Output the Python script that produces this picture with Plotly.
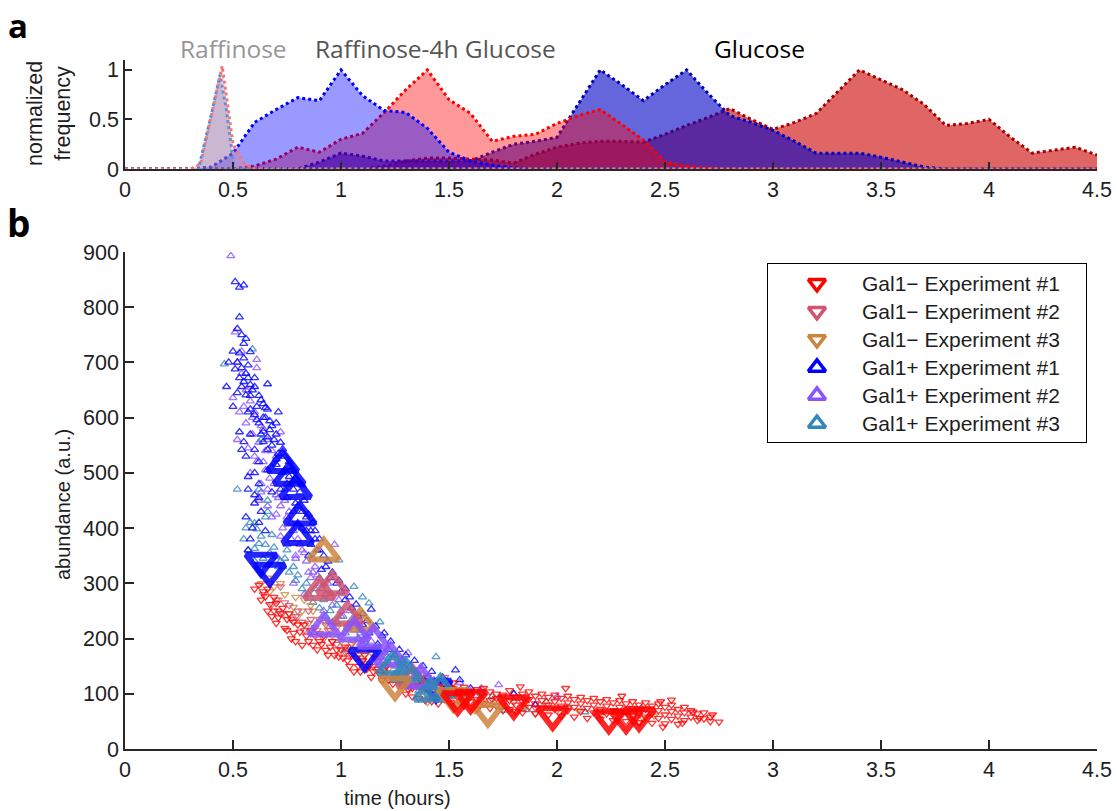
import plotly.graph_objects as go

# ---------------- panel a: histograms ----------------
hist_x = [0.0, 0.1, 0.2, 0.3, 0.4, 0.5, 0.6, 0.7, 0.8, 0.9,
          1.0, 1.1, 1.2, 1.3, 1.4, 1.5, 1.6, 1.7, 1.8, 1.9,
          2.0, 2.1, 2.2, 2.3, 2.4, 2.5, 2.6, 2.7, 2.8, 2.9,
          3.0, 3.1, 3.2, 3.3, 3.4, 3.5, 3.6, 3.7, 3.8, 3.9,
          4.0, 4.1, 4.2, 4.3, 4.4, 4.5]
r4h_minus = [0, 0, 0, 0, 0, 0, 0.03, 0.10, 0.22, 0.17,
             0.30, 0.36, 0.57, 0.80, 1.00, 0.70, 0.56, 0.28, 0.33, 0.35,
             0.46, 0.54, 0.60, 0.45, 0.29, 0.07, 0.03, 0.01, 0, 0,
             0, 0, 0, 0, 0, 0, 0, 0, 0, 0,
             0, 0, 0, 0, 0, 0]
r4h_plus = [0, 0, 0, 0, 0.02, 0.16, 0.47, 0.60, 0.72, 0.69,
            1.00, 0.74, 0.59, 0.57, 0.41, 0.17, 0.08, 0.04, 0.01, 0,
            0, 0, 0, 0, 0, 0, 0, 0, 0, 0,
            0, 0, 0, 0, 0, 0, 0, 0, 0, 0,
            0, 0, 0, 0, 0, 0]
glc_minus = [0, 0, 0, 0, 0, 0, 0, 0, 0, 0,
             0, 0, 0.03, 0.08, 0.11, 0.11, 0.10, 0.09, 0.06, 0.15,
             0.22, 0.26, 0.28, 0.28, 0.27, 0.35, 0.44, 0.52, 0.61, 0.50,
             0.40, 0.47, 0.56, 0.78, 1.00, 0.90, 0.80, 0.65, 0.44, 0.46,
             0.50, 0.32, 0.16, 0.19, 0.22, 0.14]
glc_plus = [0, 0, 0, 0, 0, 0, 0, 0, 0, 0.07,
            0.16, 0.13, 0.08, 0.08, 0.08, 0.08, 0.08, 0.17, 0.25, 0.28,
            0.32, 0.66, 1.00, 0.85, 0.69, 0.85, 1.00, 0.76, 0.54, 0.47,
            0.39, 0.28, 0.16, 0.16, 0.16, 0.12, 0.07, 0.02, 0, 0,
            0, 0, 0, 0, 0, 0]
raf_minus_x = [0.0, 0.30, 0.35, 0.40, 0.45, 0.50, 0.55, 0.60, 4.5]
raf_minus_y = [0, 0, 0.05, 0.55, 1.04, 0.25, 0.06, 0, 0]
raf_plus_x = [0.0, 0.34, 0.40, 0.44, 0.47, 0.50, 0.51, 4.5]
raf_plus_y = [0, 0, 0.55, 0.95, 0.59, 0.09, 0, 0]

# ---------------- panel b: abundance scatter (time h, abundance a.u.) ----------------
gal_minus_1 = [
    (0.62, 297), (0.65, 276), (0.70, 264), (0.70, 228), (0.74, 219), (0.82, 188), (0.87, 188), (0.93, 179),
    (0.99, 167), (0.66, 250), (0.68, 240), (0.72, 245), (0.75, 235), (0.78, 210), (0.80, 225), (0.77, 200),
    (0.84, 205), (0.86, 215), (0.90, 195), (0.92, 205), (0.95, 185), (0.97, 170), (1.00, 180), (1.03, 160),
    (1.05, 170), (1.08, 150), (1.10, 160), (1.12, 145), (1.15, 140), (1.18, 135), (1.20, 145), (1.22, 125),
    (1.25, 130), (1.28, 120), (0.64, 285), (0.69, 275), (1.06, 140), (1.16, 165),
    (0.60, 290), (0.63, 270), (0.66, 290), (0.67, 262), (0.69, 250), (0.71, 238), (0.73, 255), (0.75, 215),
    (0.76, 245), (0.78, 230), (0.79, 195), (0.81, 212), (0.83, 225), (0.85, 195), (0.88, 205), (0.89, 180),
    (0.91, 190), (0.94, 170), (0.96, 195), (0.98, 180), (1.01, 165), (1.02, 185), (1.04, 150), (1.07, 165),
    (1.09, 140), (1.11, 170), (1.13, 150), (1.14, 130), (1.17, 145), (1.19, 125), (1.21, 150), (1.24, 118),
    (1.26, 138), (1.29, 128), (1.31, 108), (1.34, 138), (1.37, 125), (1.40, 130),
    (1.30, 118), (1.30, 100), (1.33, 110), (1.33, 95), (1.36, 115), (1.36, 92), (1.39, 108), (1.39, 88),
    (1.39, 120), (1.42, 100), (1.42, 118), (1.42, 86), (1.45, 112), (1.45, 96), (1.45, 82), (1.48, 104),
    (1.48, 90), (1.48, 116), (1.51, 98), (1.51, 84), (1.51, 110), (1.54, 106), (1.54, 80), (1.54, 94),
    (1.57, 112), (1.57, 92), (1.57, 78), (1.60, 100), (1.60, 86), (1.60, 76), (1.63, 108), (1.63, 90),
    (1.63, 72), (1.66, 96), (1.66, 82), (1.66, 110), (1.69, 104), (1.69, 88), (1.69, 74), (1.72, 92),
    (1.72, 78), (1.72, 100), (1.75, 98), (1.75, 84), (1.75, 70), (1.78, 106), (1.78, 88), (1.78, 72),
    (1.81, 94), (1.81, 80), (1.81, 68), (1.84, 100), (1.84, 86), (1.84, 66), (1.87, 90), (1.87, 76),
    (1.87, 104), (1.90, 96), (1.90, 82), (1.90, 64), (1.93, 88), (1.93, 74), (1.93, 100), (1.96, 94),
    (1.96, 80), (1.96, 62), (1.99, 86), (1.99, 72), (1.99, 98), (2.02, 92), (2.02, 78), (2.02, 60),
    (2.05, 84), (2.05, 70), (2.05, 96), (2.08, 90), (2.08, 76), (2.08, 58), (2.11, 82), (2.11, 68),
    (2.11, 94), (2.14, 88), (2.14, 74), (2.14, 56), (2.17, 80), (2.17, 66), (2.17, 92), (2.20, 86),
    (2.20, 72), (2.20, 54), (2.23, 78), (2.23, 64), (2.23, 90), (2.26, 84), (2.26, 70), (2.26, 52),
    (2.29, 76), (2.29, 62), (2.29, 88), (2.32, 82), (2.32, 68), (2.32, 50), (2.35, 74), (2.35, 60),
    (2.35, 86), (2.38, 80), (2.38, 66), (2.38, 48), (2.41, 72), (2.41, 58), (2.41, 84), (2.44, 78),
    (2.44, 64), (2.44, 47), (2.47, 70), (2.47, 56), (2.47, 82), (2.50, 76), (2.50, 62), (2.50, 46),
    (2.53, 68), (2.53, 54), (2.53, 80), (2.56, 72), (2.56, 60), (2.56, 45), (2.59, 66), (2.59, 52),
    (2.59, 76), (2.62, 70), (2.62, 58), (2.65, 64), (2.65, 52), (2.68, 66), (2.68, 55), (2.71, 58),
    (2.71, 50), (2.75, 49), (2.72, 62), (2.63, 67), (2.48, 86), (2.53, 89), (2.30, 96), (2.04, 110),
    (1.83, 113), (1.52, 120), (2.49, 40), (2.58, 47), (2.66, 56),
]
gal_minus_2 = [
    (0.72, 294), (0.67, 300), (0.73, 246), (0.79, 240), (0.70, 270), (0.76, 260), (0.82, 230), (0.85, 250),
    (0.88, 220), (0.92, 200), (0.95, 215), (0.98, 190), (1.02, 175), (1.05, 190), (1.10, 160), (1.15, 150),
    (1.20, 140), (1.25, 130), (1.30, 120), (1.35, 125), (1.40, 110), (1.45, 115), (1.50, 100), (1.55, 105),
    (1.60, 95), (1.70, 90), (1.80, 85), (1.90, 75), (2.00, 70), (2.20, 65), (1.48, 130), (1.26, 160),
    (0.64, 280), (0.68, 262), (0.71, 250), (0.74, 265), (0.77, 235), (0.80, 250), (0.83, 215), (0.86, 235),
    (0.90, 210), (0.93, 225), (0.96, 195), (1.00, 205), (1.04, 170), (1.08, 180), (1.12, 150), (1.17, 160),
    (1.22, 135), (1.28, 140), (1.34, 115), (1.42, 105), (1.52, 110), (1.65, 100), (1.75, 95), (1.85, 90),
]
gal_minus_3 = [
    (0.69, 294), (0.78, 257), (0.85, 228), (0.89, 215), (0.66, 310), (0.74, 280), (0.80, 240), (0.83, 270),
    (0.87, 250), (0.93, 230), (0.96, 205), (1.00, 195), (1.04, 185), (1.08, 170), (1.12, 155), (1.16, 145),
    (1.20, 135), (1.24, 125), (1.28, 115), (1.32, 110), (1.38, 105), (1.45, 100), (1.52, 95), (1.58, 90),
    (1.65, 85), (1.75, 80), (1.85, 75), (1.95, 80), (2.10, 70), (2.30, 68), (2.45, 60), (1.62, 70),
    (1.40, 85), (0.63, 300), (0.67, 285), (0.71, 270), (0.72, 300), (0.76, 245), (0.79, 275), (0.82, 250),
    (0.86, 260), (0.90, 235), (0.94, 215), (0.98, 220), (1.02, 180), (1.06, 195), (1.10, 165), (1.14, 175),
    (1.18, 150), (1.22, 145), (1.26, 135), (1.30, 125), (1.35, 115), (1.42, 95), (1.48, 105), (1.55, 85),
    (1.70, 90), (1.90, 65), (2.05, 75), (2.20, 60), (2.40, 55),
]
gal_plus_1 = [
    (0.51, 846), (0.53, 836), (0.55, 840), (0.53, 782), (0.52, 761), (0.54, 750), (0.56, 743), (0.55, 734),
    (0.53, 717), (0.58, 719), (0.55, 708), (0.51, 688), (0.57, 695), (0.53, 672), (0.57, 672), (0.60, 672),
    (0.47, 656), (0.66, 661), (0.54, 656), (0.60, 656), (0.52, 645), (0.56, 641), (0.58, 640), (0.63, 632),
    (0.65, 618), (0.66, 615), (0.57, 610), (0.61, 596), (0.67, 594), (0.70, 590), (0.53, 574), (0.58, 570),
    (0.63, 570), (0.67, 578), (0.55, 556), (0.64, 556), (0.69, 560), (0.54, 542), (0.60, 542), (0.66, 542),
    (0.73, 543), (0.57, 493), (0.60, 500), (0.66, 505), (0.76, 493), (0.82, 478), (0.60, 460), (0.68, 465),
    (0.62, 520), (0.70, 525), (0.74, 505), (0.78, 485), (0.62, 480), (0.56, 530), (0.72, 470), (0.75, 455),
    (0.80, 440), (0.84, 420), (0.78, 430), (0.86, 395), (0.82, 400), (0.88, 380), (0.90, 360), (0.85, 350),
    (0.93, 330), (0.95, 310), (0.98, 300), (1.00, 285), (1.02, 270), (1.05, 255), (1.08, 240), (1.14, 253),
    (1.10, 225), (1.13, 210), (1.20, 210), (1.17, 190), (1.22, 180), (1.25, 170), (1.28, 160), (1.32, 150),
    (1.35, 140), (1.53, 143), (1.40, 130), (1.45, 120), (1.50, 115), (1.90, 80), (0.58, 380), (0.62, 410),
    (0.57, 360), (1.60, 110), (1.80, 100), (0.48, 700), (0.50, 620), (0.71, 610), (0.64, 600),
    (0.50, 720), (0.52, 700), (0.54, 690), (0.56, 680), (0.58, 660), (0.55, 665), (0.59, 650), (0.62, 640),
    (0.64, 625), (0.61, 620), (0.58, 615), (0.60, 605), (0.62, 590), (0.65, 600), (0.68, 585), (0.64, 575),
    (0.66, 565), (0.70, 570), (0.72, 555), (0.68, 550), (0.71, 535), (0.74, 530), (0.76, 520), (0.70, 515),
    (0.73, 500), (0.77, 505), (0.79, 490), (0.75, 480), (0.78, 470), (0.81, 465), (0.83, 450), (0.79, 445),
    (0.82, 430), (0.85, 425), (0.87, 410), (0.84, 395), (0.88, 395), (0.90, 380), (0.86, 370), (0.89, 360),
    (0.92, 350), (0.94, 340), (0.91, 325), (0.96, 320), (0.99, 305), (1.02, 290), (1.04, 275), (1.07, 262),
    (1.10, 245), (1.12, 232), (1.16, 222), (1.19, 205), (1.23, 195), (1.27, 180), (1.30, 170), (1.34, 160),
    (1.38, 150), (1.42, 140), (1.47, 130), (1.55, 125), (0.57, 470), (0.60, 445), (0.63, 430), (0.56, 420),
    (0.59, 400), (0.65, 395), (0.62, 455),
]
gal_plus_2 = [
    (0.49, 893), (0.51, 755), (0.61, 705), (0.61, 690), (0.50, 636), (0.72, 574), (0.55, 620), (0.59, 600),
    (0.63, 585), (0.66, 560), (0.60, 530), (0.64, 520), (0.68, 510), (0.70, 530), (0.58, 500), (0.63, 480),
    (0.66, 470), (0.70, 460), (0.74, 470), (0.72, 440), (0.76, 430), (0.68, 420), (0.73, 400), (0.77, 410),
    (0.80, 380), (0.75, 370), (0.82, 360), (0.84, 340), (0.88, 330), (0.86, 310), (0.90, 300), (0.93, 280),
    (0.97, 370), (0.96, 260), (1.00, 250), (0.98, 230), (1.03, 225), (1.06, 215), (1.08, 200), (1.10, 190),
    (1.15, 180), (1.18, 165), (1.22, 155), (1.26, 150), (1.30, 140), (1.31, 174), (1.35, 130), (1.40, 120),
    (1.45, 110), (1.73, 116), (1.90, 80), (1.60, 105), (1.55, 120), (0.78, 300), (0.83, 280), (0.70, 350),
    (0.92, 250), (1.02, 180), (0.54, 680), (0.57, 650), (0.52, 560), (0.65, 540), (0.62, 450), (0.79, 345),
    (0.87, 320), (0.53, 610), (0.56, 590), (0.59, 570), (0.62, 555), (0.57, 545), (0.61, 520), (0.65, 505),
    (0.67, 490), (0.63, 465), (0.69, 480), (0.71, 455), (0.74, 450), (0.66, 440), (0.70, 425), (0.75, 420),
    (0.78, 395), (0.72, 385), (0.77, 380), (0.81, 370), (0.79, 350), (0.83, 355), (0.85, 320), (0.87, 345),
    (0.89, 315), (0.91, 290), (0.94, 300), (0.95, 275), (0.99, 270), (1.01, 240), (1.04, 250), (1.07, 230),
    (1.09, 210), (1.12, 205), (1.14, 195), (1.17, 185), (1.20, 175), (1.24, 165), (1.28, 160), (1.33, 145),
    (1.38, 135), (1.43, 125), (1.50, 115), (1.65, 110), (1.80, 100), (2.00, 95), (0.52, 700), (0.54, 720),
    (0.56, 650), (0.58, 630), (0.60, 610), (0.64, 580), (0.68, 540),
]
gal_plus_3 = [
    (0.59, 724), (0.46, 697), (0.60, 409), (0.61, 398), (0.68, 388), (0.60, 363), (0.62, 372), (0.70, 348),
    (0.73, 330), (0.72, 340), (0.99, 342), (1.06, 294), (1.10, 275), (1.13, 264), (1.44, 167), (0.55, 380),
    (0.65, 420), (0.66, 450), (0.75, 360), (0.78, 330), (0.80, 315), (0.84, 300), (0.88, 290), (0.92, 270),
    (0.95, 250), (1.00, 240), (1.03, 220), (1.08, 200), (1.12, 185), (1.16, 170), (1.20, 160), (1.25, 150),
    (1.30, 130), (1.35, 120), (1.40, 110), (1.50, 100), (1.76, 70), (1.86, 71), (2.13, 67), (2.39, 74),
    (1.65, 100), (1.95, 85), (2.05, 75), (0.90, 310), (1.18, 230), (0.52, 470), (0.63, 560),
    (0.56, 400), (0.58, 410), (0.63, 385), (0.65, 370), (0.67, 355), (0.69, 365), (0.71, 330), (0.74, 345),
    (0.76, 320), (0.79, 305), (0.82, 290), (0.85, 280), (0.87, 265), (0.90, 255), (0.93, 240), (0.96, 230),
    (0.98, 260), (1.02, 210), (1.05, 235), (1.09, 215), (1.11, 195), (1.14, 180), (1.18, 175), (1.22, 165),
    (1.27, 155), (1.32, 140), (1.37, 130), (1.42, 120), (1.47, 110), (1.55, 105), (1.70, 95), (0.60, 340),
    (0.64, 345), (0.57, 360), (0.66, 430), (0.62, 470), (1.28, 125), (1.36, 105), (1.44, 95),
]

# large markers (same colours, bigger symbols)
big_plus_1_up = [(0.73, 515), (0.76, 492), (0.79, 468), (0.81, 420), (0.80, 385)]
big_plus_1_down = [(0.63, 340), (0.67, 322), (1.11, 168), (1.44, 112)]
big_minus_3_up = [(0.92, 355), (1.09, 228)]
big_minus_3_down = [(1.25, 116), (1.52, 95), (1.68, 68)]
big_minus_2_up = [(0.96, 294), (0.90, 285), (1.03, 239), (1.33, 125)]
big_plus_2_up = [(0.92, 219), (1.15, 197), (1.23, 165), (1.37, 125), (1.06, 210)]
big_plus_3_up = [(1.24, 149), (1.30, 137), (1.41, 101), (1.46, 108)]
big_minus_1_down = [(1.54, 89), (1.60, 92), (1.80, 82), (1.98, 62), (2.24, 56), (2.32, 56), (2.38, 60)]

legend_names = ["Gal1\u2212 Experiment #1", "Gal1\u2212 Experiment #2", "Gal1\u2212 Experiment #3",
                "Gal1+ Experiment #1", "Gal1+ Experiment #2", "Gal1+ Experiment #3"]
legend_rows = [1, 2, 3, 4, 5, 6]

x_ticks = [0, 0.5, 1, 1.5, 2, 2.5, 3, 3.5, 4, 4.5]
x_tick_text = ["0", "0.5", "1", "1.5", "2", "2.5", "3", "3.5", "4", "4.5"]
y_top_ticks = [0, 0.5, 1]
y_bot_ticks = [0, 100, 200, 300, 400, 500, 600, 700, 800, 900]

C_M1 = "rgb(255,0,0)"
C_M2 = "rgb(206,84,112)"
C_M3 = "rgb(204,132,62)"
C_P1 = "rgb(0,0,255)"
C_P2 = "rgb(136,84,255)"
C_P3 = "rgb(52,134,186)"

W, H = 1117, 811
fig = go.Figure()


def hist(x, y, line, fill):
    fig.add_trace(go.Scatter(x=x, y=y, mode="lines", fill="tozeroy", fillcolor=fill,
                             line=dict(color=line, width=3, dash="dot"),
                             showlegend=False, xaxis="x", yaxis="y", hoverinfo="skip"))


hist(hist_x, glc_minus, "rgb(170,0,0)", "rgba(203,0,0,0.6)")
hist(hist_x, glc_plus, "rgb(0,0,190)", "rgba(0,0,197,0.6)")
hist(hist_x, r4h_minus, "rgb(255,0,0)", "rgba(255,0,0,0.4)")
hist(hist_x, r4h_plus, "rgb(0,0,255)", "rgba(0,0,255,0.4)")
hist(raf_plus_x, raf_plus_y, "rgb(40,150,255)", "rgba(60,120,230,0.35)")
hist(raf_minus_x, raf_minus_y, "rgb(240,120,120)", "rgba(240,128,128,0.3)")


def pts(p):
    return [a for a, b in p], [b for a, b in p]


def small(p, color, sym):
    x, y = pts(p)
    fig.add_trace(go.Scatter(x=x, y=y, mode="markers", showlegend=False, xaxis="x2", yaxis="y2",
                             marker=dict(symbol=sym, size=7, color=color, opacity=0.8,
                                         line=dict(width=1.3, color=color))))


def big(p, color, sym):
    x, y = pts(p)
    fig.add_trace(go.Scatter(x=x, y=y, mode="markers", showlegend=False, xaxis="x2", yaxis="y2",
                             marker=dict(symbol=sym, size=26, color=color, opacity=0.85,
                                         line=dict(width=6, color=color))))


small(gal_plus_2, C_P2, "triangle-up-open")
small(gal_plus_3, C_P3, "triangle-up-open")
small(gal_plus_1, C_P1, "triangle-up-open")
small(gal_minus_3, C_M3, "triangle-down-open")
small(gal_minus_2, C_M2, "triangle-down-open")
small(gal_minus_1, C_M1, "triangle-down-open")
big(big_plus_1_up, C_P1, "triangle-up-open")
big(big_plus_1_down, C_P1, "triangle-down-open")
big(big_minus_3_up, C_M3, "triangle-up-open")
big(big_minus_2_up, C_M2, "triangle-up-open")
big(big_plus_2_up, C_P2, "triangle-up-open")
big(big_plus_3_up, C_P3, "triangle-up-open")
big(big_minus_3_down, C_M3, "triangle-down-open")
big(big_minus_1_down, C_M1, "triangle-down-open")

# legend (drawn in its own small axis box)
leg_cols = [C_M1, C_M2, C_M3, C_P1, C_P2, C_P3]
leg_syms = ["triangle-down-open"] * 3 + ["triangle-up-open"] * 3
for r, c, s in zip(legend_rows, leg_cols, leg_syms):
    fig.add_trace(go.Scatter(x=[0.154], y=[r], mode="markers", showlegend=False, xaxis="x3", yaxis="y3",
                             hoverinfo="skip",
                             marker=dict(symbol=s, size=15, color=c, line=dict(width=3.5, color=c))))

FONT = "Liberation Sans, Arial, Helvetica, sans-serif"
HUM = "Open Sans, Noto Sans, sans-serif"
AX = "rgb(40,40,40)"
TXT = "rgb(30,30,30)"

xl, xr = 125 / W, 1097 / W
axis_common = dict(showline=True, linecolor=AX, linewidth=1.5, ticks="inside", tickcolor=AX,
                   tickwidth=1.5, showgrid=False, zeroline=False, mirror=False, automargin=False,
                   tickfont=dict(family=FONT, size=21.5, color=TXT))

annotations = [
    dict(text="<b>a</b>", x=18 / W, y=(H - 1) / H, xref="paper", yref="paper", showarrow=False,
         xanchor="center", yanchor="top", font=dict(family=HUM, size=33, color="black")),
    dict(text="<b>b</b>", x=19 / W, y=(H - 222) / H, xref="paper", yref="paper", showarrow=False,
         xanchor="center", yanchor="middle", font=dict(family=HUM, size=37, color="black")),
    dict(text="Raffinose", x=233 / W, y=(H - 48) / H, xref="paper", yref="paper", showarrow=False,
         xanchor="center", yanchor="middle", font=dict(family=HUM, size=24.5, color="rgb(150,150,150)")),
    dict(text="Raffinose-4h Glucose", x=435 / W, y=(H - 48) / H, xref="paper", yref="paper",
         xanchor="center", yanchor="middle", showarrow=False,
         font=dict(family=HUM, size=24.5, color="rgb(85,85,85)")),
    dict(text="Glucose", x=759 / W, y=(H - 48) / H, xref="paper", yref="paper", showarrow=False,
         xanchor="center", yanchor="middle", font=dict(family=HUM, size=24.5, color="black")),
    dict(text="normalized<br>frequency", x=49 / W, y=(H - 114) / H, xref="paper", yref="paper",
         xanchor="center", yanchor="middle", showarrow=False, textangle=-90,
         font=dict(family=FONT, size=21.5, color=TXT)),
    dict(text="abundance (a.u.)", x=63 / W, y=(H - 505) / H, xref="paper", yref="paper",
         xanchor="center", yanchor="middle", showarrow=False, textangle=-90,
         font=dict(family=FONT, size=20, color=TXT)),
    dict(text="time (hours)", x=397 / W, y=(H - 798) / H, xref="paper", yref="paper",
         xanchor="center", yanchor="middle", showarrow=False,
         font=dict(family=FONT, size=20, color=TXT)),
]
for nm, r in zip(legend_names, legend_rows):
    annotations.append(dict(text=nm, x=0.289, y=r, xref="x3", yref="y3", showarrow=False,
                            xanchor="left", yanchor="middle",
                            font=dict(family=FONT, size=21, color=TXT)))

fig.update_layout(
    width=W, height=H, margin=dict(l=0, r=0, t=0, b=0, autoexpand=False),
    paper_bgcolor="white", plot_bgcolor="rgba(0,0,0,0)", showlegend=False,
    xaxis=dict(domain=[xl, xr], range=[0, 4.5], tickvals=x_ticks, ticktext=x_tick_text,
               ticklen=7, anchor="y", **axis_common),
    yaxis=dict(domain=[(H - 169) / H, (H - 60) / H], range=[0, 1.1], tickvals=y_top_ticks,
               ticktext=["0", "0.5", "1"], ticklen=7, anchor="x", **axis_common),
    xaxis2=dict(domain=[xl, xr], range=[0, 4.5], tickvals=x_ticks, ticktext=x_tick_text,
                ticklen=9, anchor="y2", **axis_common),
    yaxis2=dict(domain=[(H - 749) / H, (H - 252) / H], range=[0, 900], tickvals=y_bot_ticks,
                ticklen=9, anchor="x2", **axis_common),
    xaxis3=dict(domain=[768 / W, 1086 / W], range=[0, 1], anchor="y3", showline=True, mirror=True,
                linecolor="black", linewidth=1.3, showticklabels=False, ticks="", showgrid=False,
                zeroline=False, fixedrange=True, automargin=False),
    yaxis3=dict(domain=[(H - 442) / H, (H - 264) / H], range=[6.66, 0.31], anchor="x3", showline=True,
                mirror=True, linecolor="black", linewidth=1.3, showticklabels=False, ticks="",
                showgrid=False, zeroline=False, fixedrange=True, automargin=False),
    annotations=annotations,
)

fig.write_html("out.html", config={"responsive": False})
